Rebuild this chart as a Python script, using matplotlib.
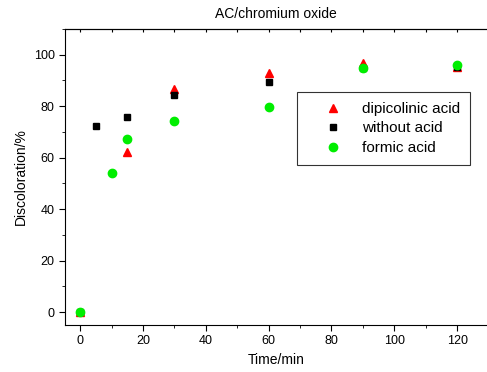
import matplotlib
matplotlib.use("Agg")
import matplotlib.pyplot as plt
from matplotlib.ticker import MultipleLocator

plt.rcParams["font.family"] = ["Liberation Sans", "DejaVu Sans"]

# data
t_dipic = [0, 15, 30, 60, 90, 120]
y_dipic = [0, 62.4, 86.6, 92.9, 96.8, 95.3]
t_none = [0, 5, 15, 30, 60, 90, 120]
y_none = [0, 72.4, 75.9, 84.3, 89.5, 95.0, 95.1]
t_formic = [0, 10, 15, 30, 60, 90, 120]
y_formic = [0, 54.1, 67.3, 74.2, 79.6, 94.8, 96.1]

fig = plt.figure(figsize=(4.87, 3.72), dpi=100)
ax = fig.add_axes([65 / 487, 47 / 372, 422 / 487, 296 / 372])

ax.plot(t_dipic, y_dipic, "^", color="red", ms=6, mec="red", label="dipicolinic acid")
ax.plot(t_none, y_none, "s", color="black", ms=5, label="without acid")
ax.plot(t_formic, y_formic, "o", color="#00ee00", ms=6, mec="#00ee00", label="formic acid")

ax.set_xlim(-4.8, 129.5)
ax.set_ylim(-5, 110)
ax.xaxis.set_major_locator(MultipleLocator(20))
ax.xaxis.set_minor_locator(MultipleLocator(10))
ax.yaxis.set_major_locator(MultipleLocator(20))
ax.yaxis.set_minor_locator(MultipleLocator(10))
ax.tick_params(which="major", direction="out", length=4, labelsize=9, top=False)
ax.tick_params(which="minor", direction="out", length=2.5, top=False)
ax.spines["right"].set_visible(False)

# inward ticks along the top frame
sec = ax.secondary_xaxis("top")
sec.xaxis.set_major_locator(MultipleLocator(10))
sec.tick_params(direction="in", length=2, labeltop=False)

ax.set_xlabel("Time/min", fontsize=10)
ax.set_ylabel("Discoloration/%", fontsize=10)
ax.set_title("AC/chromium oxide", fontsize=10, pad=8)

leg = ax.legend(loc="upper left", bbox_to_anchor=(0.549, 0.787), fontsize=11,
                frameon=True, fancybox=False, edgecolor="black", borderpad=0.65,
                handlelength=3.5, handletextpad=0.1, labelspacing=0.36,
                borderaxespad=0)
leg.get_frame().set_linewidth(0.8)

fig.savefig("out.png", dpi=100)
